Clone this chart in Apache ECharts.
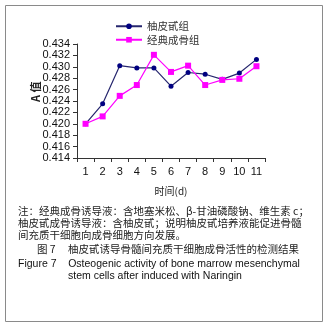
<!DOCTYPE html>
<html>
<head>
<meta charset="utf-8">
<script src="https://cdn.jsdelivr.net/npm/echarts@6/dist/echarts.min.js"></script>
<style>
  html, body { margin: 0; padding: 0; background: #fff; }
  #main { width: 330px; height: 330px; }
</style>
</head>
<body>
<div id="main"></div>
<script>
// 时间 (d)
let days = ["1", "2", "3", "4", "5", "6", "7", "8", "9", "10", "11"];
// A 值
let naringin = [0.4200, 0.4235, 0.4302, 0.4298, 0.4298, 0.4266, 0.4290, 0.4287, 0.4278, 0.4289, 0.4313];
let classic = [0.4200, 0.4213, 0.4249, 0.4268, 0.4321, 0.4291, 0.4302, 0.4268, 0.4277, 0.4279, 0.4301];
let seriesNames = ["柚皮甙组", "经典成骨组"];
let noteLines = [
  "注：经典成骨诱导液：含地塞米松、β-甘油磷酸钠、维生素 c；",
  "柚皮甙成骨诱导液：含柚皮甙；说明柚皮甙培养液能促进骨髓",
  "间充质干细胞向成骨细胞方向发展。"
];

let cnFont = '"Noto Sans CJK SC", sans-serif';
let enFont = '"Liberation Sans", Arial, sans-serif';

let chartDom = document.getElementById("main");
let myChart = echarts.init(chartDom, null, { renderer: "canvas" });
let option;

let graphics = [
  {
    type: "rect",
    shape: { x: 5.5, y: 5.5, width: 317, height: 316 },
    style: { fill: "none", stroke: "#8a8a8a", lineWidth: 1 },
    silent: true
  },
  {
    type: "text",
    x: 30, y: 102,
    rotation: Math.PI / 2,
    style: { text: "A 值", font: "bold 11px " + cnFont, fill: "#222" }
  }
];
noteLines.forEach((line, i) => {
  graphics.push({
    type: "text",
    left: 18, top: 206 + i * 12,
    style: { text: line, font: "10.5px " + cnFont, fill: "#222" }
  });
});
graphics.push({
  type: "text",
  left: 37, top: 244,
  style: { text: "图 7", font: "10.5px " + cnFont, fill: "#222" }
});
graphics.push({
  type: "text",
  left: 68, top: 244,
  style: { text: "柚皮甙诱导骨髓间充质干细胞成骨活性的检测结果", font: "10.5px " + cnFont, fill: "#222" }
});
graphics.push({
  type: "text",
  left: 18, top: 259,
  style: { text: "Figure 7    Osteogenic activity of bone marrow mesenchymal", font: "10.5px " + enFont, fill: "#111" }
});
graphics.push({
  type: "text",
  left: 68, top: 271,
  style: { text: "stem cells after induced with Naringin", font: "10.5px " + enFont, fill: "#111" }
});

option = {
  animation: false,
  backgroundColor: "#fff",
  grid: { left: 77, right: 65, top: 44, bottom: 172 },
  legend: {
    orient: "vertical",
    left: 110,
    top: 16,
    itemWidth: 26,
    itemHeight: 7,
    itemGap: 3,
    textStyle: { fontFamily: cnFont, fontSize: 10.5, color: "#333" },
    data: seriesNames
  },
  xAxis: {
    type: "category",
    data: days,
    boundaryGap: true,
    name: "时间(d)",
    nameLocation: "middle",
    nameGap: 28,
    nameTextStyle: { fontFamily: cnFont, fontSize: 10, color: "#222" },
    axisLine: { lineStyle: { color: "#333", width: 1 } },
    axisTick: { show: true, length: 4, inside: false, lineStyle: { color: "#333" } },
    axisLabel: { margin: 8, fontFamily: enFont, fontSize: 11, color: "#111" },
    splitLine: { show: false }
  },
  yAxis: {
    type: "value",
    min: 0.414,
    max: 0.434,
    interval: 0.002,
    axisLine: { show: true, lineStyle: { color: "#333", width: 1 } },
    axisTick: { show: true, length: 4, lineStyle: { color: "#333" } },
    axisLabel: {
      margin: 7,
      fontFamily: enFont,
      fontSize: 11,
      color: "#111",
      formatter: (v) => v.toFixed(3)
    },
    splitLine: { show: false }
  },
  series: [
    {
      name: seriesNames[0],
      type: "line",
      data: naringin,
      symbol: "circle",
      symbolSize: 5,
      lineStyle: { color: "#26266e", width: 1.2 },
      itemStyle: { color: "#000080" }
    },
    {
      name: seriesNames[1],
      type: "line",
      data: classic,
      symbol: "rect",
      symbolSize: 6,
      lineStyle: { color: "#ff00ff", width: 1.2 },
      itemStyle: { color: "#ff00ff" }
    }
  ],
  graphic: graphics
};

option && myChart.setOption(option);
</script>
</body>
</html>
